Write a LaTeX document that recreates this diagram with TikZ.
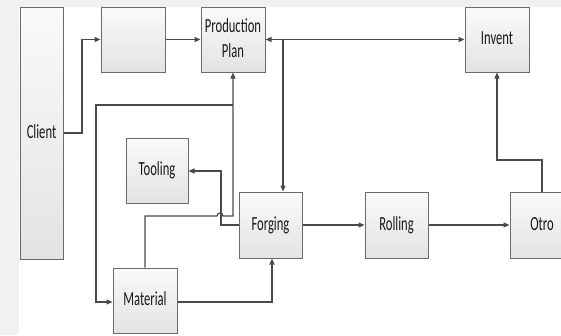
\documentclass[tikz,border=0pt]{standalone}
\usepackage{fontspec}
\setmainfont{Carlito}
\usetikzlibrary{arrows.meta,shadows}
\definecolor{bordc}{HTML}{6A6A6A}
\definecolor{linec}{HTML}{4A4A4A}
\definecolor{bgc}{HTML}{F1F1F1}
\newcommand\lbl[1]{\scalebox{0.63}[1]{\fontsize{20}{25}\selectfont\begin{tabular}{@{}c@{}}#1\end{tabular}}}
\tikzset{
  box/.style={draw=bordc, line width=1pt, top color=white!98!black, bottom color=white!89!black,
    minimum width=#1, minimum height=65pt, inner sep=0pt, text=black!90,
    drop shadow={shadow xshift=1pt, shadow yshift=-1.2pt, fill=black!45, opacity=0.6}},
  box/.default=64pt,
  conn/.style={draw=linec, line width=1.2pt, -{Triangle[length=6pt,width=5pt]}},
}
\begin{document}
\begin{tikzpicture}[x=1pt,y=-1pt]
\useasboundingbox (0,0) rectangle (561,335);
\fill[bgc] (0,0) rectangle (561,335);
\fill[white] (19,7) rectangle (561,335);
\begin{scope}
\clip (0,0) rectangle (561,335);
\node[box=43pt, minimum height=252pt] (client) at (41.5,133) {\lbl{Client}};
\node[box] (blank) at (133,39.5) {};
\node[box] (pp) at (233,39.5) {\lbl{Production\\Plan}};
\node[box] (invent) at (497,39.5) {\lbl{Invent}};
\node[box=62pt] (tooling) at (157,170.5) {\lbl{Tooling}};
\node[box=63pt, minimum height=66pt] (forging) at (270.5,225) {\lbl{Forging}};
\node[box] (material) at (145,300.5) {\lbl{Material}};
\node[box=63pt, minimum height=66pt] (rolling) at (396.5,225) {\lbl{Rolling}};
\node[box, minimum height=66pt] (otro) at (542,225) {\lbl{Otro}};

\coordinate (c1) at (82,133);
\coordinate (jtop) at (283,40);
\coordinate (jpp) at (233,105);
\coordinate (l1) at (96,105);
\coordinate (m1) at (145,216);
\coordinate (m2) at (233,216);
\coordinate (t1) at (221,225);
\coordinate (t2) at (221,171);
\coordinate (f1) at (272,302);
\coordinate (o1) at (542,160);
\coordinate (o2) at (497,160);

\draw[conn] (client.east |- c1) -- (c1) |- (blank.west);
\draw[conn] (blank.east) -- (pp.west);
\draw[conn, {Triangle[length=6pt,width=5pt]}-{Triangle[length=6pt,width=5pt]}] (pp.east) -- (invent.west);
\draw[conn] (jtop) -- (jtop |- forging.north);
\draw[conn] (material.north) -- (m1) -- ++(72,0) .. controls ++(0,-4) and ++(0,-4) .. ++(6,0) -- (m2) -- (pp.south);
\draw[conn] (jpp) -- (l1) |- (material.west |- 0,302);
\draw[conn] (forging.west |- t1) -- (t1) -- (t2) -- (tooling.east |- t2);
\draw[conn] (material.east |- 0,302) -- (f1) -- (f1 |- forging.south);
\draw[conn] (forging.east) -- (rolling.west);
\draw[conn] (rolling.east) -- (otro.west);
\draw[conn] (otro.north) -- (o1) -- (o2) -- (invent.south);
\end{scope}
\end{tikzpicture}
\end{document}
